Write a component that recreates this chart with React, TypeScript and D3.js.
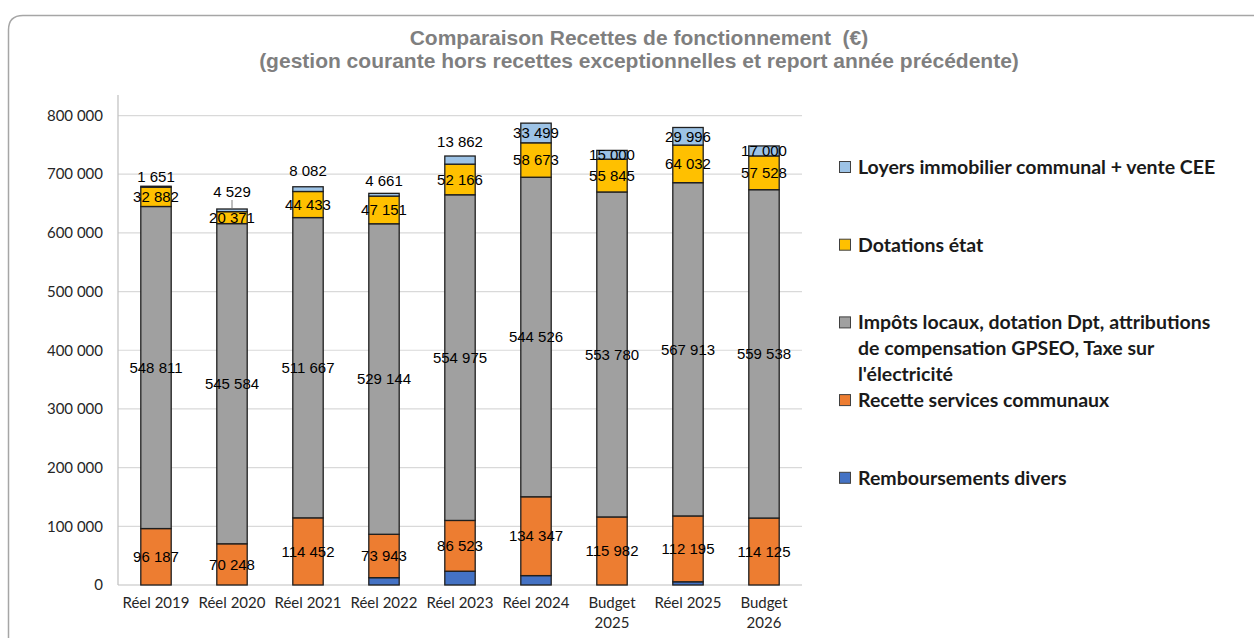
import * as React from "react";
import * as d3 from "d3";

// data (bottom segment first)
const categories = [
  "Réel 2019",
  "Réel 2020",
  "Réel 2021",
  "Réel 2022",
  "Réel 2023",
  "Réel 2024",
  "Budget 2025",
  "Réel 2025",
  "Budget 2026",
];
const remboursements = [0, 0, 0, 12500, 23500, 16000, 0, 5500, 0];
const recettes = [96187, 70248, 114452, 73943, 86523, 134347, 115982, 112195, 114125];
const impots = [548811, 545584, 511667, 529144, 554975, 544526, 553780, 567913, 559538];
const dotations = [32882, 20371, 44433, 47151, 52166, 58673, 55845, 64032, 57528];
const loyers = [1651, 4529, 8082, 4661, 13862, 33499, 15000, 29996, 17000];

const seriesNames = [
  "Remboursements divers",
  "Recette services communaux",
  "Impôts locaux, dotation Dpt, attributions\nde compensation GPSEO, Taxe sur\nl'électricité",
  "Dotations état",
  "Loyers immobilier communal + vente CEE",
];
const seriesColors = ["#4472c4", "#ed7d31", "#a0a0a0", "#ffc000", "#9dc3e6"];
const yTicks = [0, 100000, 200000, 300000, 400000, 500000, 600000, 700000, 800000];

const titleLines = [
  "Comparaison Recettes de fonctionnement  (€)",
  "(gestion courante hors recettes exceptionnelles et report année précédente)",
];

// labels of the top segment that sit above the bar (lift in px, leader line)
const loyersLift: Record<string, number> = {
  "Réel 2019": 9,
  "Réel 2020": 17,
  "Réel 2021": 16,
  "Réel 2022": 13,
  "Réel 2023": 14,
};

const W = 1254;
const H = 638;
const plot = { left: 118, right: 802, top: 95, bottom: 585 };

const fr = d3.formatLocale({
  decimal: ",",
  thousands: " ",
  grouping: [3],
  currency: ["", " €"],
});
const fmt = fr.format(",d");

export default function App() {
  const values = [remboursements, recettes, impots, dotations, loyers];
  const rows = categories.map((c, i) => {
    const r: Record<string, number | string> = { cat: c };
    values.forEach((v, s) => (r[seriesNames[s]] = v[i]));
    return r;
  });
  const stack = d3.stack<Record<string, number | string>>().keys(seriesNames)(rows as any);

  const x = d3
    .scaleBand()
    .domain(categories)
    .range([plot.left, plot.right])
    .paddingInner(0.6)
    .paddingOuter(0.3);
  const y = d3.scaleLinear().domain([0, 835000]).range([plot.bottom, plot.top]);

  const labelFont = "'Liberation Sans', Arial, sans-serif";
  const axisFont = "Lato, 'Open Sans', sans-serif";

  const legendX = 839;
  const legendY0 = 167;
  const legendStep = 77.7;

  return (
    <svg
      width={W}
      height={H}
      style={{ position: "absolute", left: 0, top: 0, display: "block" }}
    >
      <rect width={W} height={H} fill="#fff" />
      {/* frame */}
      <path
        d={`M 8.5 ${H + 10} L 8.5 30 Q 8.5 15.5 23 15.5 L ${W + 10} 15.5`}
        fill="none"
        stroke="#a6a6a6"
        strokeWidth={1.5}
      />

      {/* title */}
      <g
        fontFamily={labelFont}
        fontWeight="bold"
        fontSize={21}
        fill="#7f7f7f"
        textAnchor="middle"
      >
        {titleLines.map((t, i) => (
          <text key={i} x={639} y={45 + i * 23} style={{ whiteSpace: "pre" }}>
            {t}
          </text>
        ))}
      </g>

      {/* gridlines */}
      <g>
        {yTicks.map((t) => (
          <line
            key={t}
            x1={plot.left}
            x2={plot.right}
            y1={y(t)}
            y2={y(t)}
            stroke={t === 0 ? "#bfbfbf" : "#d9d9d9"}
            strokeWidth={1.2}
          />
        ))}
        <line
          x1={plot.left}
          x2={plot.left}
          y1={plot.top}
          y2={plot.bottom}
          stroke="#bfbfbf"
          strokeWidth={1.2}
        />
      </g>

      {/* y axis labels */}
      <g fontFamily={axisFont} fontSize={15} fill="#262626" textAnchor="end">
        {yTicks.map((t) => (
          <text key={t} x={103} y={y(t)} dy="0.35em">
            {fmt(t)}
          </text>
        ))}
      </g>

      {/* x axis labels */}
      <g fontFamily={axisFont} fontSize={15} fill="#262626" textAnchor="middle">
        {categories.map((c) => {
          const lines = c.length > 9 ? c.split(" ") : [c];
          return (
            <text key={c} x={(x(c) ?? 0) + x.bandwidth() / 2} y={603} dy="0.35em">
              {lines.map((l, i) => (
                <tspan key={i} x={(x(c) ?? 0) + x.bandwidth() / 2} dy={i === 0 ? "0.35em" : 20}>
                  {l}
                </tspan>
              ))}
            </text>
          );
        })}
      </g>

      {/* bars */}
      {stack.map((layer, s) => (
        <g key={layer.key} fill={seriesColors[s]} stroke="#1f1f1f" strokeWidth={1.3}>
          {layer.map((d, i) =>
            d[1] - d[0] > 0 ? (
              <rect
                key={i}
                x={x(categories[i])}
                width={x.bandwidth()}
                y={y(d[1])}
                height={y(d[0]) - y(d[1])}
              />
            ) : null
          )}
        </g>
      ))}

      {/* data labels */}
      <g fontFamily={labelFont} fontSize={15} fill="#000" textAnchor="middle">
        {stack.map((layer, s) =>
          s === 0
            ? null
            : layer.map((d, i) => {
                const c = categories[i];
                const cx = (x(c) ?? 0) + x.bandwidth() / 2;
                const v = d[1] - d[0];
                const lift = s === 4 ? loyersLift[c] : undefined;
                if (lift !== undefined) {
                  const top = y(d[1]);
                  return (
                    <g key={`${s}-${i}`}>
                      {lift > 16 && (
                        <line
                          x1={cx}
                          x2={cx}
                          y1={top - lift + 8}
                          y2={top - 1}
                          stroke="#7f7f7f"
                          strokeWidth={1}
                        />
                      )}
                      <text x={cx} y={top - lift} dy="0.35em">
                        {fmt(v)}
                      </text>
                    </g>
                  );
                }
                return (
                  <text key={`${s}-${i}`} x={cx} y={y((d[0] + d[1]) / 2)} dy="0.35em">
                    {fmt(v)}
                  </text>
                );
              })
        )}
      </g>

      {/* legend, top entry first */}
      <g fontFamily={axisFont} fontWeight="bold" fontSize={19.5} fill="#1a1a1a">
        {seriesNames
          .map((n, s) => ({ n, s }))
          .reverse()
          .map(({ n, s }, k) => {
            const cy = legendY0 + k * legendStep;
            return (
              <g key={n}>
                <rect
                  x={legendX + 0.5}
                  y={cy - 5.5}
                  width={11}
                  height={11}
                  fill={seriesColors[s]}
                  stroke="#404040"
                  strokeWidth={1}
                />
                <text x={858} y={cy}>
                  {n.split("\n").map((l, j) => (
                    <tspan key={j} x={858} dy={j === 0 ? "0.35em" : 26}>
                      {l}
                    </tspan>
                  ))}
                </text>
              </g>
            );
          })}
      </g>
    </svg>
  );
}
